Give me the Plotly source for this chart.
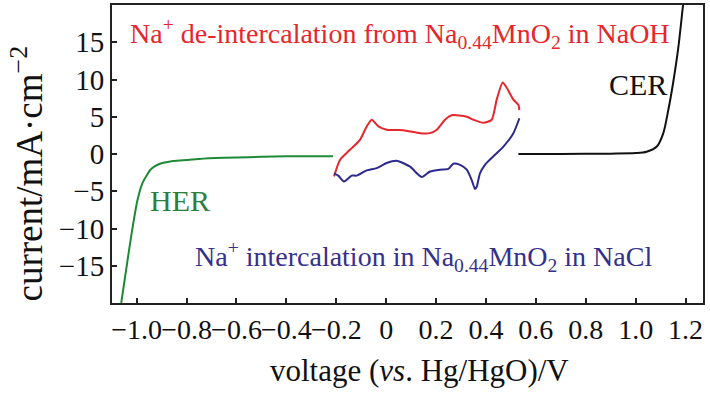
import plotly.graph_objects as go

# HER (green) branch
her_v = [-1.062, -1.040, -1.020, -0.997, -0.977, -0.960, -0.946, -0.925, -0.906, -0.880, -0.854,
         -0.80, -0.75, -0.65, -0.55, -0.45, -0.35, -0.213]
her_i = [-20.0, -15.0, -10.6, -6.2, -3.9, -2.9, -2.15, -1.6, -1.3, -1.1, -0.95,
         -0.8, -0.67, -0.52, -0.42, -0.35, -0.29, -0.3]

# CER (black) branch
cer_v = [0.530, 0.70, 0.90, 1.00, 1.044, 1.085, 1.111, 1.131, 1.150, 1.170, 1.190]
cer_i = [0.0, 0.0, 0.05, 0.12, 0.3, 1.0, 2.8, 5.9, 9.5, 14.0, 20.0]

# CV anodic (red) branch
red_v = [-0.209, -0.185, -0.145, -0.105, -0.078, -0.058, -0.031, 0.002, 0.069, 0.136, 0.176, 0.203,
         0.236, 0.263, 0.323, 0.350, 0.390, 0.423, 0.443, 0.467, 0.483, 0.510, 0.530, 0.534]
red_i = [-3.0, -0.8, 0.56, 1.9, 3.7, 4.6, 3.7, 3.25, 3.2, 2.8, 2.8, 3.25,
         4.6, 5.2, 5.0, 4.6, 4.2, 4.6, 7.3, 9.6, 8.9, 7.3, 6.6, 5.9]

# CV cathodic (blue) branch
blue_v = [0.534, 0.510, 0.470, 0.430, 0.396, 0.376, 0.363, 0.356, 0.343, 0.323, 0.296, 0.269, 0.249,
          0.216, 0.176, 0.143, 0.123, 0.096, 0.042, 0.002, -0.038, -0.078, -0.118, -0.138, -0.169,
          -0.192, -0.209]
blue_i = [4.8, 2.8, 1.0, -0.3, -1.45, -2.6, -4.4, -4.7, -3.5, -2.1, -1.45, -1.3, -2.0,
          -2.1, -2.35, -3.1, -2.6, -1.7, -0.9, -1.2, -1.9, -2.2, -2.9, -2.9, -3.7,
          -2.9, -2.6]

x_ticks = [-1.0, -0.8, -0.6, -0.4, -0.2, 0.0, 0.2, 0.4, 0.6, 0.8, 1.0, 1.2]
x_ticktext = ["\u22121.0", "\u22120.8", "\u22120.6", "\u22120.4", "\u22120.2", "0",
              "0.2", "0.4", "0.6", "0.8", "1.0", "1.2"]
y_ticks = [-15, -10, -5, 0, 5, 10, 15]
y_ticktext = ["\u221215", "\u221210", "\u22125", "0", "5", "10", "15"]

FONT = "Liberation Serif"
RED = "#e5262b"
BLUE = "#2c2a8e"
GREEN = "#1f8a36"

fig = go.Figure()
fig.add_trace(go.Scatter(x=her_v, y=her_i, mode="lines",
                         line=dict(color=GREEN, width=2, shape="spline", smoothing=0.8)))
fig.add_trace(go.Scatter(x=cer_v, y=cer_i, mode="lines",
                         line=dict(color="#111111", width=2, shape="spline", smoothing=0.8)))
fig.add_trace(go.Scatter(x=red_v, y=red_i, mode="lines",
                         line=dict(color=RED, width=2, shape="spline", smoothing=0.6)))
fig.add_trace(go.Scatter(x=blue_v, y=blue_i, mode="lines",
                         line=dict(color=BLUE, width=2, shape="spline", smoothing=0.6)))

fig.update_layout(
    width=710, height=394,
    margin=dict(l=112, r=7, t=5, b=91),
    paper_bgcolor="white", plot_bgcolor="white",
    showlegend=False,
    font=dict(family=FONT, size=28, color="#111111"),
)
fig.update_xaxes(
    range=[-1.099, 1.27], tickvals=x_ticks, ticktext=x_ticktext, tickangle=0,
    ticks="inside", ticklen=5, tickwidth=1.5, tickcolor="#222",
    showline=True, linecolor="#222", linewidth=2, mirror=True,
    showgrid=False, zeroline=False, automargin=False,
    tickfont=dict(family=FONT, size=28, color="#111"),
)
fig.update_yaxes(
    range=[-20, 20], tickvals=y_ticks, ticktext=y_ticktext,
    ticks="inside", ticklen=5, tickwidth=1.5, tickcolor="#222",
    showline=True, linecolor="#222", linewidth=2, mirror=True,
    showgrid=False, zeroline=False, automargin=False,
    tickfont=dict(family=FONT, size=29, color="#111"),
)

# axis titles
fig.add_annotation(x=0.521, y=-0.228, xref="paper", yref="paper", xanchor="center", yanchor="middle",
                   text="voltage (<i>vs</i>. Hg/HgO)/V", showarrow=False,
                   font=dict(family=FONT, size=31, color="#111"))
fig.add_annotation(x=-0.1438, y=0.4346, xref="paper", yref="paper", xanchor="center", yanchor="middle",
                   text="current/mA\u00b7cm<sup>\u22122</sup>", textangle=-90, showarrow=False,
                   font=dict(family=FONT, size=37, color="#111"))

# in-plot labels
fig.add_annotation(x=-1.034, y=16.2, xref="x", yref="y", xanchor="left", yanchor="middle",
                   text="Na<sup>+</sup> de-intercalation from Na<sub>0.44</sub>MnO<sub>2</sub> in NaOH",
                   showarrow=False, font=dict(family=FONT, size=28, color=RED))
fig.add_annotation(x=-0.774, y=-13.7, xref="x", yref="y", xanchor="left", yanchor="middle",
                   text="Na<sup>+</sup> intercalation in Na<sub>0.44</sub>MnO<sub>2</sub> in NaCl",
                   showarrow=False, font=dict(family=FONT, size=28, color="#35308a"))
fig.add_annotation(x=-0.954, y=-6.2, xref="x", yref="y", xanchor="left", yanchor="middle",
                   text="HER", showarrow=False, font=dict(family=FONT, size=30, color="#2d7f3c"))
fig.add_annotation(x=0.886, y=9.3, xref="x", yref="y", xanchor="left", yanchor="middle",
                   text="CER", showarrow=False, font=dict(family=FONT, size=30, color="#111"))

fig.write_html("out.html", config={"displayModeBar": False},
               post_script="document.body.style.margin='0px';")
